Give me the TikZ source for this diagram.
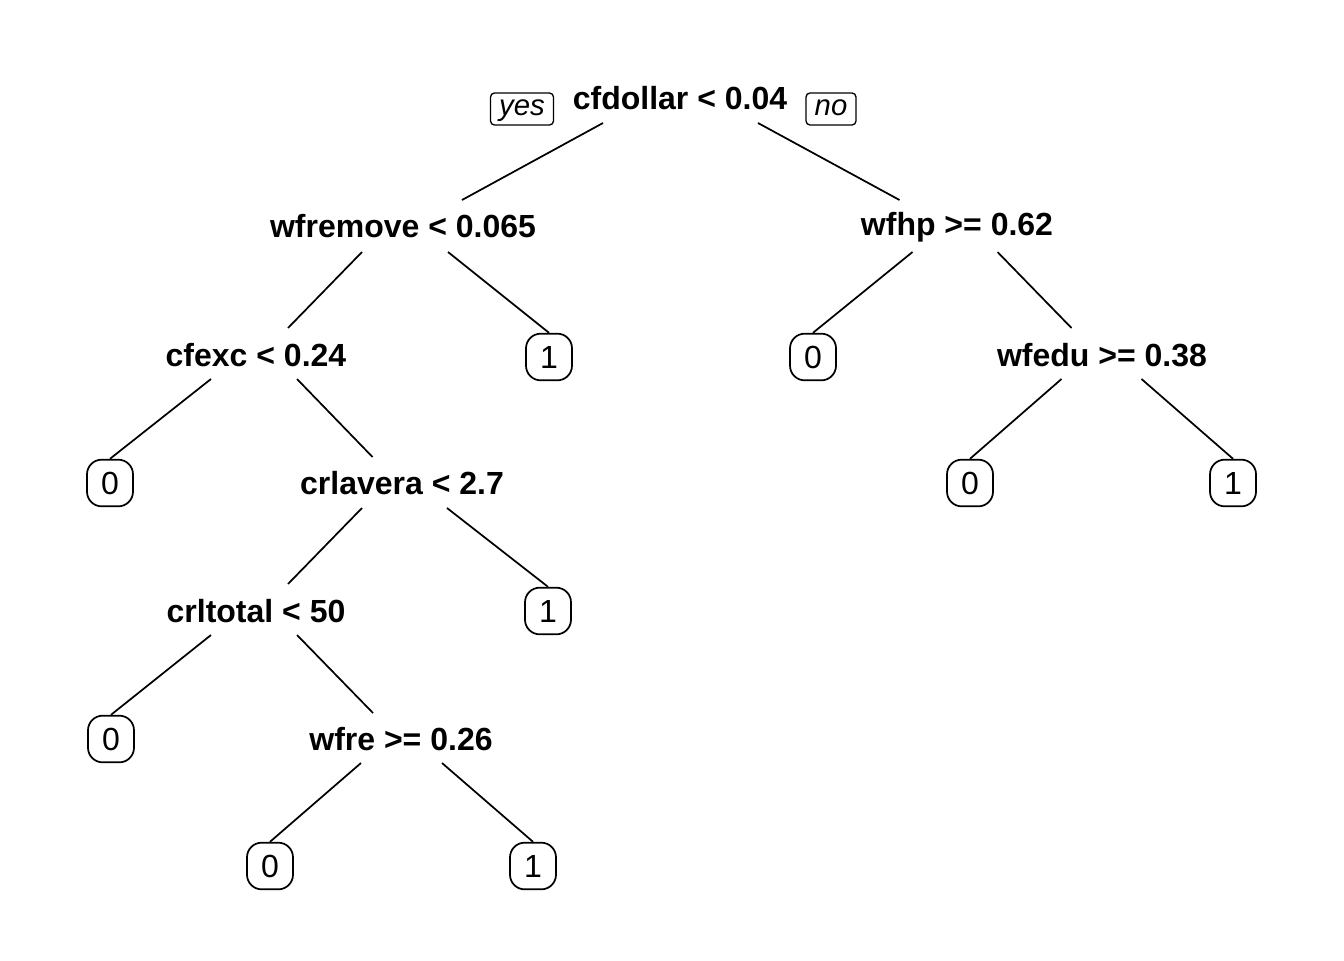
\documentclass[tikz,border=0pt]{standalone}
\usepackage{fontspec}
\setmainfont{Liberation Sans}
\begin{document}
\begin{tikzpicture}[x=0.75pt,y=-0.75pt,
    split/.style={anchor=base,inner sep=0pt,font=\fontsize{24}{28}\selectfont\bfseries},
    leaf/.style={draw,line width=1.3pt,rounded corners=11pt,minimum width=34.5pt,minimum height=35pt,inner sep=0pt,font=\fontsize{24}{28}\selectfont},
    tag/.style={draw,line width=1pt,rounded corners=3pt,anchor=base,inner xsep=6.5pt,inner ysep=3pt,text height=13.5pt,text depth=4.5pt,font=\fontsize{22}{26}\selectfont\itshape},
    branch/.style={line width=1.3pt}]
  \useasboundingbox (0,0) rectangle (1344,960);
  % splits, named by rpart node number
  \node[split] (n1) at (680,109) {cfdollar < 0.04};
  \node[split] (n2) at (403,237) {wfremove < 0.065};
  \node[split] (n3) at (957,235) {wfhp >= 0.62};
  \node[split] (n4) at (256,366) {cfexc < 0.24};
  \node[split] (n7) at (1102,366) {wfedu >= 0.38};
  \node[split] (n9) at (402,494) {crlavera < 2.7};
  \node[split] (n18) at (256,622) {crltotal < 50};
  \node[split] (n37) at (401,750) {wfre >= 0.26};
  % leaves
  \node[leaf] (n5) at (549,357) {1};
  \node[leaf] (n6) at (813,357) {0};
  \node[leaf] (n8) at (110,483) {0};
  \node[leaf] (n14) at (970,483) {0};
  \node[leaf] (n15) at (1233,483) {1};
  \node[leaf] (n19) at (548,611) {1};
  \node[leaf] (n36) at (111,739) {0};
  \node[leaf] (n74) at (270,866) {0};
  \node[leaf] (n75) at (533,866) {1};
  \node[tag] (yes) at (522,115) {yes};
  \node[tag] (no) at (831,115) {no};
  % branches
  \foreach \a/\ax/\ay/\b/\bx/\by in {n1.base/-77/14/n2.base/59/-37, n1.base/78/14/n3.base/-57.5/-35,
      n2.base/-41/15/n4.base/32/-38, n2.base/45/15/n5.north/0/0,
      n3.base/-44.5/17/n6.north/0/0, n3.base/40.5/17/n7.base/-30.5/-38,
      n4.base/-45/13/n8.north/0/0, n4.base/41/13/n9.base/-29.5/-37,
      n7.base/-40.5/13/n14.north/0/0, n7.base/39.5/13/n15.north/0/0,
      n9.base/-40/14/n18.base/32/-38, n9.base/45/14/n19.north/0/0,
      n18.base/-45/13/n36.north/0/0, n18.base/41/13/n37.base/-28/-37,
      n37.base/-40/13/n74.north/0/0, n37.base/41/13/n75.north/0/0}
    \draw[branch] ([shift={(\ax,\ay)}]\a) -- ([shift={(\bx,\by)}]\b);
\end{tikzpicture}
\end{document}
